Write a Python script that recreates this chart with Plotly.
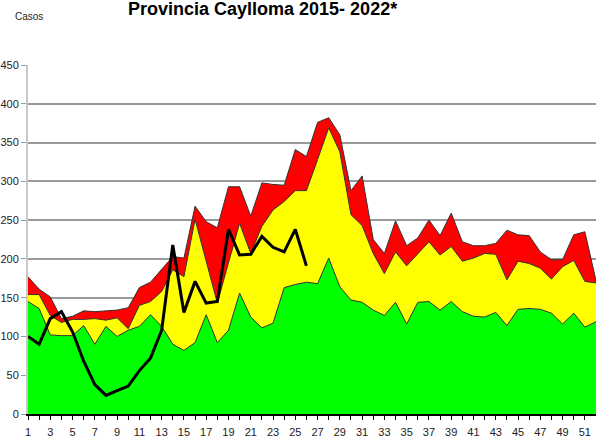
import plotly.graph_objects as go

weeks = list(range(1, 53))

alarm = [177, 161, 151, 123, 126, 133, 132, 133, 134, 137, 163, 170, 186, 203, 201, 268,
         248, 240, 293, 293, 255, 298, 296, 295, 341, 332, 376, 382, 360, 288, 307, 225,
         207, 249, 217, 227, 250, 230, 259, 222, 217, 217, 220, 237, 231, 230, 209, 199,
         199, 231, 235, 172]

security = [154, 154, 127, 118, 122, 122, 123, 121, 124, 110, 140, 145, 158, 186, 177, 251,
            197, 143, 195, 246, 207, 242, 263, 274, 288, 288, 328, 369, 338, 257, 243, 207,
            181, 209, 191, 206, 222, 205, 216, 197, 201, 207, 206, 173, 197, 194, 188, 174,
            190, 198, 171, 169]

success = [145, 136, 102, 101, 101, 114, 90, 113, 100, 108, 113, 128, 113, 90, 82, 92,
           128, 92, 108, 156, 125, 111, 117, 163, 167, 170, 168, 201, 164, 147, 144, 134,
           127, 144, 116, 144, 145, 134, 145, 132, 126, 125, 131, 114, 135, 136, 135, 130,
           116, 130, 112, 119]

weeks_2022 = list(range(1, 27))
cases_2022 = [100, 90, 123, 132, 106, 68, 38, 24, 30, 36, 56, 72, 108, 218, 131, 171,
              143, 145, 238, 205, 206, 229, 215, 209, 238, 191]

tick_vals = weeks
tick_text = [str(w) if w % 2 == 1 else "" for w in weeks]

FONT = "Liberation Sans, Arial, sans-serif"
outline = dict(color="#333333", width=1)

fig = go.Figure()
fig.add_trace(go.Scatter(x=weeks, y=alarm, mode="lines", fill="tozeroy",
                         fillcolor="#FF0000", line=outline, name="Alarma"))
fig.add_trace(go.Scatter(x=weeks, y=security, mode="lines", fill="tozeroy",
                         fillcolor="#FFFF00", line=outline, name="Seguridad"))
fig.add_trace(go.Scatter(x=weeks, y=success, mode="lines", fill="tozeroy",
                         fillcolor="#00FF00", line=outline, name="Éxito"))
fig.add_trace(go.Scatter(x=weeks_2022, y=cases_2022, mode="lines",
                         line=dict(color="#000000", width=3), name="2022"))

fig.update_layout(
    width=596, height=447,
    margin=dict(l=28, r=0, t=65, b=33),
    paper_bgcolor="white", plot_bgcolor="white",
    showlegend=False,
    font=dict(family=FONT, size=11, color="#222222"),
    xaxis=dict(range=[1, 52], tickmode="array", tickvals=tick_vals, ticktext=tick_text,
               automargin=False, ticklabelstandoff=3,
               showgrid=False, zeroline=False, showline=True, linecolor="#000000",
               linewidth=1.5, ticks="outside", ticklen=4, tickcolor="#000000",
               tickfont=dict(family=FONT, size=11, color="#222222")),
    yaxis=dict(range=[0, 450], tickmode="linear", tick0=0, dtick=50,
               automargin=False,
               showgrid=True, gridcolor="#999999", gridwidth=1.5, zeroline=False,
               showline=True, linecolor="#c8c8c8", linewidth=2,
               ticks="outside", ticklen=5, tickcolor="#999999",
               tickfont=dict(family=FONT, size=11, color="#222222")),
    annotations=[
        dict(text="<b>Provincia Caylloma 2015- 2022*</b>", xref="paper", yref="paper",
             x=(262 - 28) / 568, y=1 + (65 - 9.5) / 349, xanchor="center", yanchor="middle",
             showarrow=False, font=dict(family=FONT, size=18, color="#000000")),
        dict(text="Casos", xref="paper", yref="paper",
             x=(13 - 28) / 568, y=1 + (65 - 16) / 349, xanchor="left", yanchor="middle",
             showarrow=False, font=dict(family=FONT, size=10, color="#222222")),
    ],
)

fig.write_html("out.html", config={"displayModeBar": False},
               post_script="document.body.style.margin='0px';document.body.style.padding='0px';")
